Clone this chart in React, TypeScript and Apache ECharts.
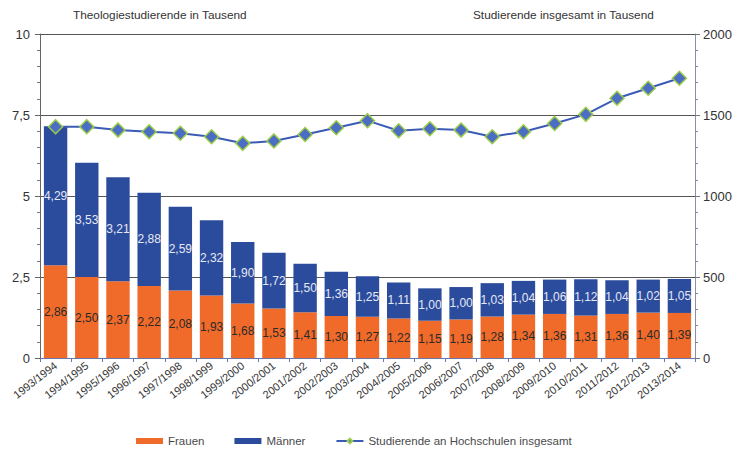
import React, { useEffect, useRef } from "react";
import * as echarts from "echarts";

// Wintersemester
const semesters = [
  "1993/1994", "1994/1995", "1995/1996", "1996/1997", "1997/1998", "1998/1999",
  "1999/2000", "2000/2001", "2001/2002", "2002/2003", "2003/2004", "2004/2005",
  "2005/2006", "2006/2007", "2007/2008", "2008/2009", "2009/2010", "2010/2011",
  "2011/2012", "2012/2013", "2013/2014",
];

// Theologiestudierende in Tausend
const frauen = [
  2.86, 2.5, 2.37, 2.22, 2.08, 1.93, 1.68, 1.53, 1.41, 1.3, 1.27, 1.22, 1.15,
  1.19, 1.28, 1.34, 1.36, 1.31, 1.36, 1.4, 1.39,
];
const maenner = [
  4.29, 3.53, 3.21, 2.88, 2.59, 2.32, 1.9, 1.72, 1.5, 1.36, 1.25, 1.11, 1.0,
  1.0, 1.03, 1.04, 1.06, 1.12, 1.04, 1.02, 1.05,
];

// Studierende insgesamt in Tausend
const insgesamt = [
  1428, 1428, 1407, 1397, 1387, 1366, 1325, 1340, 1380, 1421, 1465, 1403,
  1415, 1407, 1366, 1397, 1448, 1504, 1603, 1665, 1727,
];

const leftTicks = [0, 2.5, 5, 7.5, 10];
const rightTicks = [0, 500, 1000, 1500, 2000];

const comma = (v: number, digits: number) =>
  v.toFixed(digits).replace(".", ",");

const FONT = "'Liberation Sans', Arial, sans-serif";

export default function App() {
  const ref = useRef<HTMLDivElement>(null);

  useEffect(() => {
    if (!ref.current) return;
    const chart = echarts.init(ref.current, null, { renderer: "svg" });
    chart.setOption({
      animation: false,
      backgroundColor: "#ffffff",
      textStyle: { fontFamily: FONT },
      grid: { left: 40, right: 44, top: 34, bottom: 91, containLabel: false },
      graphic: [
        {
          type: "text",
          left: 73,
          top: 9,
          style: {
            text: "Theologiestudierende in Tausend",
            fontSize: 11.8,
            fill: "#333",
            fontFamily: FONT,
          },
        },
        {
          type: "text",
          left: 473,
          top: 9,
          style: {
            text: "Studierende insgesamt in Tausend",
            fontSize: 11.8,
            fill: "#333",
            fontFamily: FONT,
          },
        },
      ],
      legend: {
        left: 136,
        top: 435,
        itemWidth: 27,
        itemHeight: 6,
        itemGap: 30,
        padding: 0,
        textStyle: { fontSize: 11.5, color: "#4a4a4a", fontFamily: FONT },
        data: [
          { name: "Frauen", icon: "rect" },
          { name: "Männer", icon: "rect" },
          { name: "Studierende an Hochschulen insgesamt" },
        ],
      },
      xAxis: {
        type: "category",
        data: semesters,
        axisLine: { lineStyle: { color: "#6a78a8", width: 1 } },
        axisTick: { show: true, length: 4, lineStyle: { color: "#6a78a8" } },
        axisLabel: {
          interval: 0,
          rotate: 38,
          fontSize: 11,
          color: "#333",
          margin: 6,
        },
      },
      yAxis: [
        {
          type: "value",
          min: leftTicks[0],
          max: leftTicks[leftTicks.length - 1],
          interval: leftTicks[1] - leftTicks[0],
          axisLine: { show: true, lineStyle: { color: "#666" } },
          axisTick: { show: true, length: 5, lineStyle: { color: "#666" } },
          minorTick: { show: true, splitNumber: 5, length: 3, lineStyle: { color: "#777" } },
          splitLine: { show: true, lineStyle: { color: "#555", width: 1 } },
          axisLabel: {
            fontSize: 13,
            color: "#333",
            margin: 10,
            formatter: (v: number) => (Number.isInteger(v) ? String(v) : comma(v, 1)),
          },
        },
        {
          type: "value",
          min: rightTicks[0],
          max: rightTicks[rightTicks.length - 1],
          interval: rightTicks[1] - rightTicks[0],
          position: "right",
          axisLine: { show: true, lineStyle: { color: "#8a8fa8" } },
          axisTick: { show: true, length: 5, lineStyle: { color: "#777" } },
          minorTick: { show: true, splitNumber: 5, length: 3, lineStyle: { color: "#888" } },
          splitLine: { show: false },
          axisLabel: {
            fontSize: 13,
            color: "#333",
            margin: 8,
            formatter: (v: number) => String(v),
          },
        },
      ],
      series: [
        {
          name: "Frauen",
          type: "bar",
          stack: "theologie",
          data: frauen,
          barCategoryGap: "25%",
          itemStyle: { color: "#f06a2a" },
          label: {
            show: true,
            position: "inside",
            fontSize: 12,
            color: "#2a2a2a",
            formatter: (p: any) => comma(p.value, 2),
          },
        },
        {
          name: "Männer",
          type: "bar",
          stack: "theologie",
          data: maenner,
          barCategoryGap: "25%",
          itemStyle: { color: "#2b4c9c" },
          label: {
            show: true,
            position: "inside",
            fontSize: 12,
            color: "#e6e8f6",
            formatter: (p: any) => comma(p.value, 2),
          },
        },
        {
          name: "Studierende an Hochschulen insgesamt",
          type: "line",
          yAxisIndex: 1,
          data: insgesamt,
          symbol: "diamond",
          symbolSize: 14,
          lineStyle: { color: "#3b5cb6", width: 2 },
          itemStyle: { color: "#4b6dc4", borderColor: "#9dcc48", borderWidth: 1.5 },
          z: 5,
        },
      ],
    });
    return () => chart.dispose();
  }, []);

  return <div ref={ref} style={{ width: 739, height: 449, position: "absolute", left: 0, top: 0 }} />;
}
